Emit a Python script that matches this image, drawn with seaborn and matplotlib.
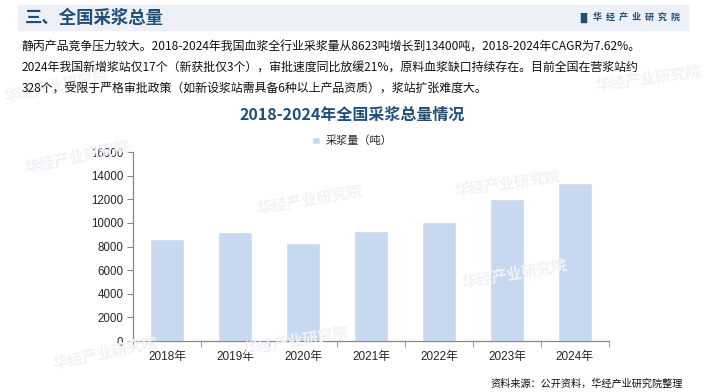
import numpy as np
import matplotlib
matplotlib.use("Agg")
import matplotlib.pyplot as plt
import seaborn as sns
from matplotlib.patches import Rectangle

# ===== DATA =====
years = ["2018年", "2019年", "2020年", "2021年", "2022年", "2023年", "2024年"]
volume = [8623, 9200, 8300, 9350, 10100, 12050, 13400]
series_name = "采浆量（吨）"
yticks = [0, 2000, 4000, 6000, 8000, 10000, 12000, 14000, 16000]

page_title = "三、全国采浆总量"
chart_title = "2018-2024年全国采浆总量情况"
body_lines = [
    "静丙产品竞争压力较大。2018-2024年我国血浆全行业采浆量从8623吨增长到13400吨，2018-2024年CAGR为7.62%。",
    "2024年我国新增浆站仅17个（新获批仅3个），审批速度同比放缓21%，原料血浆缺口持续存在。目前全国在营浆站约",
    "328个，受限于严格审批政策（如新设浆站需具备6种以上产品资质），浆站扩张难度大。",
]
brand = "华经产业研究院"
source = "资料来源：公开资料，华经产业研究院整理"

# ===== STYLE =====
sns.set_style("white")
plt.rcParams['font.family'] = ['Liberation Sans', 'Noto Sans CJK SC']
cjk = ['Noto Sans CJK SC', 'DejaVu Sans']
dark_blue = "#1f4e79"
bar_color = "#c6d9f0"

fig = plt.figure(figsize=(7.05, 3.92), dpi=100)

# header band
fig.patches.append(Rectangle((0.026, 0.924), 0.95, 0.063, transform=fig.transFigure,
                             color="#edf1f7", zorder=0))
fig.text(0.036, 0.955, page_title, fontsize=12.5, fontweight='bold', color=dark_blue,
         family=cjk, va='center', ha='left')
fig.text(0.818, 0.955, "▐▌", fontsize=7, color=dark_blue, va='center', ha='left',
         family=['DejaVu Sans'])
fig.text(0.965, 0.955, "  ".join(brand), fontsize=6.5, fontweight='bold', color=dark_blue,
         family=cjk, va='center', ha='right')

# watermarks
for (wx, wy, rot) in [(0.11, 0.60, 12), (0.44, 0.49, 10), (0.15, 0.10, 12), (0.42, 0.13, 10),
                      (0.72, 0.53, 8), (0.73, 0.30, 10), (0.08, 0.78, 12), (0.92, 0.80, 8)]:
    fig.text(wx, wy, brand, fontsize=11, color="#f0f2f6", family=cjk, rotation=rot,
             ha='center', va='center', zorder=0, fontweight='bold')

# body text
for i, line in enumerate(body_lines):
    fig.text(0.031, 0.880 - i * 0.054, line, fontsize=8.6, color="#111111", family=cjk,
             va='center', ha='left')

fig.text(0.5, 0.707, chart_title, fontsize=11.5, fontweight='bold', color=dark_blue,
         family=cjk, ha='center', va='center')

# ===== CHART =====
ax = fig.add_axes([0.1887, 0.130, 0.675, 0.482])
ax.patch.set_alpha(0)
sns.barplot(x=years, y=volume, color=bar_color, width=0.51, ax=ax, label=series_name,
            saturation=1)
ax.set_ylim(0, 16000)
ax.set_xlim(-0.5, len(years) - 0.5)
ax.set_yticks(yticks)
ax.set_yticklabels([str(v) for v in yticks], fontsize=8.3)
ax.set_xticks(np.arange(-0.5, len(years), 1), minor=True)
ax.tick_params(axis='x', which='major', length=0, labelsize=8.5, pad=7)
ax.tick_params(axis='x', which='minor', length=4, direction='out', color="#888888", bottom=True)
ax.tick_params(axis='y', length=4, direction='out', color="#888888", left=True, pad=3)
for side in ['top', 'right']:
    ax.spines[side].set_visible(False)
for side in ['left', 'bottom']:
    ax.spines[side].set_color("#888888")
    ax.spines[side].set_linewidth(0.9)
ax.set_xlabel("")
ax.set_ylabel("")

leg = ax.legend(loc='center', bbox_to_anchor=(0.5, 0.64), bbox_transform=fig.transFigure,
                frameon=False, handlelength=0.7, handleheight=0.7, handletextpad=0.5,
                prop={'family': cjk, 'size': 8})

fig.text(0.969, 0.022, source, fontsize=7.3, color="#111111", family=cjk, ha='right', va='center')

plt.savefig("out.png", dpi=100)
